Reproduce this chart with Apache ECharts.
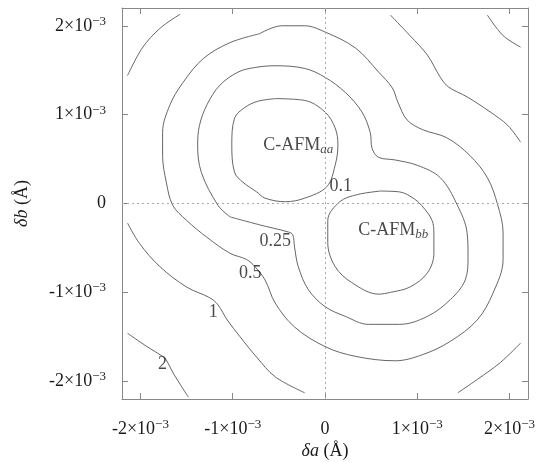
<!DOCTYPE html>
<html>
<head>
<meta charset="utf-8">
<script src="https://cdn.jsdelivr.net/npm/echarts@6/dist/echarts.min.js"></script>
<style>
  html, body { margin: 0; padding: 0; background: #fff; }
  #chart { width: 543px; height: 462px; }
</style>
</head>
<body>
<div id="chart"></div>
<script>
// all coordinates in units of 1e-3 Å
const tickValues = [-2, -1, 0, 1, 2];

// contour 0.1 : two closed loops around the minima
const level01Aa = [
  [-0.54, 1.18], [-0.22, 1.16], [0.0, 1.03], [0.11, 0.85], [0.14, 0.66], [0.11, 0.43],
  [0.02, 0.19], [-0.22, 0.06], [-0.43, 0.02], [-0.65, 0.06], [-0.74, 0.13], [-0.89, 0.24],
  [-0.98, 0.35], [-1.01, 0.66], [-0.98, 0.96], [-0.87, 1.08], [-0.73, 1.15], [-0.54, 1.18]
];
const level01Bb = [
  [0.60, 0.14], [0.81, 0.13], [0.97, 0.05], [1.07, -0.05], [1.16, -0.19], [1.18, -0.33],
  [1.18, -0.56], [1.11, -0.78], [0.92, -0.94], [0.71, -1.00], [0.58, -1.02], [0.29, -0.89],
  [0.11, -0.71], [0.03, -0.44], [0.03, -0.19], [0.16, 0.02], [0.35, 0.10], [0.60, 0.14]
];
// contour 0.25
const level025 = [
  [-1.03, -0.15], [-1.16, -0.02], [-1.34, 0.35], [-1.38, 0.66], [-1.36, 0.88], [-1.28, 1.11],
  [-1.14, 1.33], [-0.94, 1.48], [-0.76, 1.53], [-0.54, 1.55], [-0.22, 1.52], [0.0, 1.42],
  [0.22, 1.25], [0.40, 1.03], [0.49, 0.80], [0.51, 0.62], [0.58, 0.52], [0.76, 0.49],
  [1.00, 0.43], [1.25, 0.29], [1.43, -0.01], [1.54, -0.33], [1.55, -0.60], [1.52, -0.86],
  [1.36, -1.08], [1.11, -1.27], [0.81, -1.36], [0.47, -1.36], [0.22, -1.27], [0.0, -1.16],
  [-0.18, -0.97], [-0.29, -0.71], [-0.33, -0.49], [-0.35, -0.35], [-0.40, -0.32],
  [-0.71, -0.24], [-1.03, -0.15]
];
// contour 0.5
const level05 = [
  [-0.71, 1.91], [-1.03, 1.81], [-1.32, 1.63], [-1.54, 1.36], [-1.68, 1.11], [-1.76, 0.80],
  [-1.76, 0.54], [-1.72, 0.24], [-1.65, -0.02], [-1.50, -0.19], [-1.28, -0.38], [-1.03, -0.56],
  [-0.85, -0.63], [-0.76, -0.71], [-0.65, -0.86], [-0.54, -1.12], [-0.33, -1.39], [0.0, -1.61],
  [0.33, -1.72], [0.76, -1.77], [1.06, -1.70], [1.36, -1.55], [1.65, -1.31], [1.82, -1.01],
  [1.93, -0.63], [1.93, -0.33], [1.87, -0.01], [1.76, 0.29], [1.57, 0.54], [1.32, 0.74],
  [1.06, 0.83], [0.89, 0.94], [0.79, 1.14], [0.73, 1.30], [0.58, 1.48], [0.33, 1.75],
  [0.0, 1.93], [-0.22, 2.00], [-0.47, 2.00], [-0.71, 1.91]
];
// contour 1 : four open pieces
const level1UpperLeft = [[-1.57, 2.13], [-1.79, 1.97], [-1.98, 1.75], [-2.14, 1.44]];
const level1UpperRight = [
  [0.71, 2.12], [0.92, 1.89], [1.11, 1.67], [1.25, 1.42], [1.34, 1.31], [1.54, 1.20],
  [1.79, 1.03], [1.98, 0.88], [2.12, 0.69]
];
const level1LowerLeft = [
  [-2.14, -0.22], [-2.01, -0.45], [-1.79, -0.71], [-1.50, -0.94], [-1.25, -1.06],
  [-1.16, -1.14], [-1.06, -1.31], [-0.92, -1.50], [-0.74, -1.73], [-0.54, -1.95], [-0.22, -2.13]
];
const level1LowerRight = [[2.12, -1.57], [1.90, -1.79], [1.65, -1.98], [1.44, -2.13]];
// contour 2 : corners
const level2LowerLeft = [[-2.14, -1.46], [-1.93, -1.61], [-1.76, -1.72], [-1.72, -1.76], [-1.65, -1.90], [-1.48, -2.18]];
const level2UpperRight = [[1.76, 2.12], [1.93, 1.89], [2.12, 1.76]];

const contourLabels = ['0.1', '0.25', '0.5', '1', '2'];
const contourLabelPos = [[0.17, 0.19], [-0.54, -0.42], [-0.81, -0.78], [-1.21, -1.22], [-1.76, -1.81]];

const minimaNames = ['aa', 'bb'];
const minimaPos = [[-0.39, 0.58], [0.57, -0.45]];
const minimaLabelPos = [[-0.29, 0.66], [0.74, -0.30]];

const FONT = 'Liberation Serif';
const lineColor = '#555';
const frameColor = '#888';

const fmtTick = (v) => {
  if (v === 0) return '{n|0}';
  return '{n|' + v + '×10}{s|−3}';
};
const tickRich = {
  n: { fontFamily: FONT, fontSize: 18, color: '#1a1a1a', lineHeight: 22 },
  s: { fontFamily: FONT, fontSize: 13, color: '#1a1a1a', lineHeight: 22, verticalAlign: 'top', padding: [0, 0, 10, 0] }
};

const contourSeries = [
  level01Aa, level01Bb, level025, level05,
  level1UpperLeft, level1UpperRight, level1LowerLeft, level1LowerRight,
  level2LowerLeft, level2UpperRight
].map((pts) => ({
  type: 'line',
  data: pts,
  showSymbol: false,
  smooth: 0.35,
  silent: true,
  lineStyle: { color: lineColor, width: 0.9 },
  z: 3
}));

const frameAxis = (position) => ({
  type: 'value', min: -2.2, max: 2.2, position: position,
  axisLine: { show: true, onZero: false, lineStyle: { color: frameColor, width: 1 } },
  axisTick: { show: true, inside: true, length: 6, customValues: tickValues, lineStyle: { color: frameColor } },
  axisLabel: { show: false },
  splitLine: { show: false }
});

const chart = echarts.init(document.getElementById('chart'), null, { renderer: 'canvas' });

const option = {
  animation: false,
  backgroundColor: '#fff',
  grid: { left: 122, right: 15, top: 8, bottom: 63, containLabel: false, outerBoundsMode: 'none' },
  xAxis: [
    Object.assign(frameAxis('bottom'), {
      name: '{i|δa} (Å)', nameLocation: 'middle', nameGap: 43, nameMoveOverlap: false,
      nameTextStyle: {
        fontFamily: FONT, fontSize: 18, color: '#1a1a1a',
        rich: { i: { fontFamily: FONT, fontStyle: 'italic', fontSize: 18, color: '#1a1a1a' } }
      },
      axisLabel: { show: true, margin: 19, customValues: tickValues, formatter: fmtTick, rich: tickRich }
    }),
    frameAxis('top')
  ],
  yAxis: [
    Object.assign(frameAxis('left'), {
      name: '{i|δb} (Å)', nameLocation: 'middle', nameGap: 91, nameMoveOverlap: false,
      nameTextStyle: {
        fontFamily: FONT, fontSize: 18, color: '#1a1a1a',
        rich: { i: { fontFamily: FONT, fontStyle: 'italic', fontSize: 18, color: '#1a1a1a' } }
      },
      axisLabel: { show: true, margin: 16, customValues: tickValues, formatter: fmtTick, rich: tickRich }
    }),
    frameAxis('right')
  ],
  series: [
    ...contourSeries,
    {
      // zero lines
      type: 'scatter', data: [], silent: true,
      markLine: {
        silent: true, symbol: 'none', animation: false,
        label: { show: false },
        lineStyle: { color: '#aaa', type: [2, 3], width: 1 },
        data: [{ xAxis: 0 }, { yAxis: 0 }]
      },
      z: 1
    },
    {
      // contour level labels
      type: 'scatter', silent: true, symbolSize: 0,
      data: contourLabelPos.map((p, i) => ({ value: p, name: contourLabels[i] })),
      label: {
        show: true, position: 'inside', formatter: (p) => p.name,
        fontFamily: FONT, fontSize: 18, color: '#1a1a1a'
      },
      z: 5
    },
    {
      // minimum markers
      type: 'scatter', silent: true, symbol: 'emptyCircle', symbolSize: 4,
      itemStyle: { color: '#fff', borderColor: '#777', borderWidth: 0.8 },
      data: minimaPos,
      z: 6
    },
    {
      // minimum labels
      type: 'scatter', silent: true, symbolSize: 0,
      data: minimaLabelPos.map((p, i) => ({ value: p, name: minimaNames[i] })),
      label: {
        show: true, position: 'inside',
        formatter: (p) => '{m|C-AFM}{sub|' + p.name + '}',
        rich: {
          m: { fontFamily: FONT, fontSize: 18, color: '#1a1a1a', lineHeight: 22 },
          sub: { fontFamily: FONT, fontStyle: 'italic', fontSize: 13, color: '#1a1a1a', lineHeight: 22, verticalAlign: 'bottom', padding: [6, 0, 0, 0] }
        }
      },
      z: 5
    }
  ]
};

chart.setOption(option);
</script>
</body>
</html>
